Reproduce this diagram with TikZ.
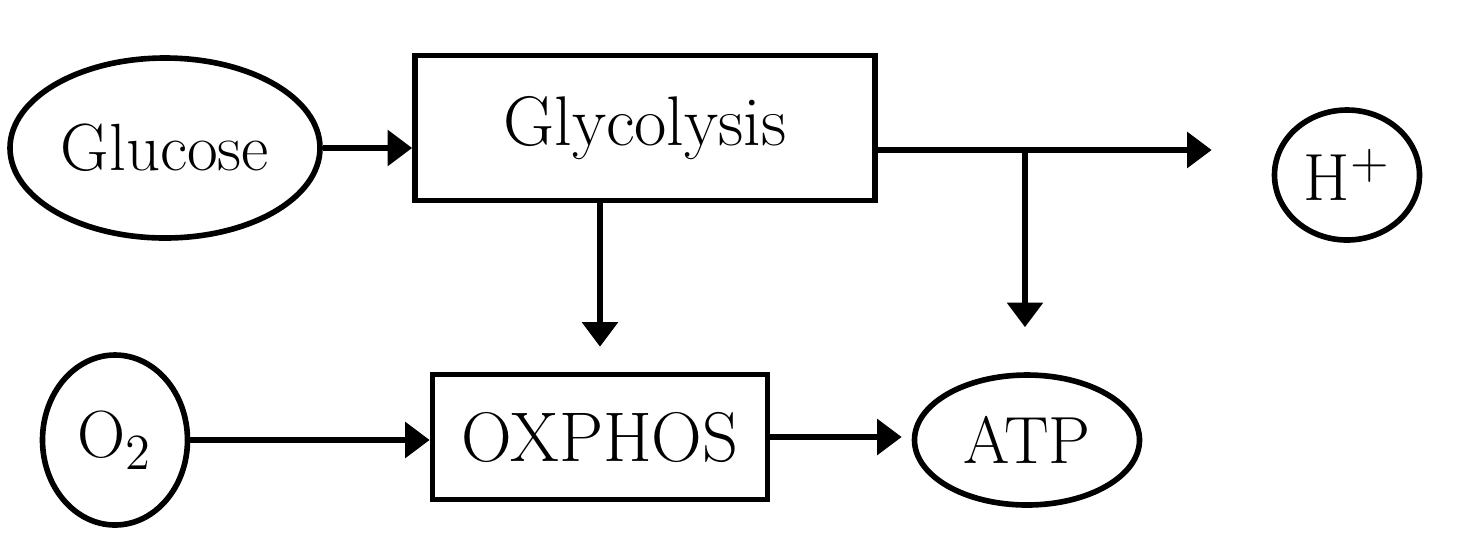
\documentclass[tikz,border=0pt]{standalone}
\usetikzlibrary{shapes.geometric,arrows.meta}
\tikzset{
	met/.style={ellipse, draw, line width=1.6pt, inner sep=0pt, font=\fontsize{19}{23}\selectfont},
	proc/.style={rectangle, draw, line width=1.6pt, font=\fontsize{20}{24}\selectfont},
	flow/.style={line width=1.6pt, -{Triangle[length=7pt,width=10pt]}},
}
\begin{document}
\begin{tikzpicture}
		\useasboundingbox (0,0) rectangle (14.75,-5.59);
		\node[met, minimum width=3.1cm, minimum height=1.8cm] (glc) at (1.65,-1.48) {Glucose};
		\node[proc, minimum width=4.6cm, minimum height=1.45cm] (gly) at (6.45,-1.28) {Glycolysis};
		\node[met, minimum width=1.45cm, minimum height=1.3cm] (hp) at (13.47,-1.75) {H$^+$};
		\node[met, minimum width=1.45cm, minimum height=1.7cm] (o2) at (1.15,-4.4) {O$_2$};
		\node[proc, minimum width=3.35cm, minimum height=1.25cm] (ox) at (6.0,-4.37) {OXPHOS};
		\node[met, minimum width=2.25cm, minimum height=1.3cm] (atp) at (10.27,-4.4) {ATP};
		\coordinate (br) at (10.25,-1.5);
		\coordinate (dn) at (6.0,0);
		
		\draw[flow] (glc.east) -- (glc.east -| gly.west);
		\draw[line width=1.6pt] (br -| gly.east) -- (br);
		\draw[flow, shorten >=0.6cm] (br) -- (hp.west |- br);
		\draw[flow, shorten >=0.45cm] (br) -- (br |- atp.north);
		\draw[flow, shorten >=0.25cm] (dn |- gly.south) -- (dn |- ox.north);
		\draw[flow] (o2.east) -- (o2.east -| ox.west);
		\draw[flow, shorten >=0.1cm] (ox.east) -- (ox.east -| atp.west);
\end{tikzpicture}
\end{document}
